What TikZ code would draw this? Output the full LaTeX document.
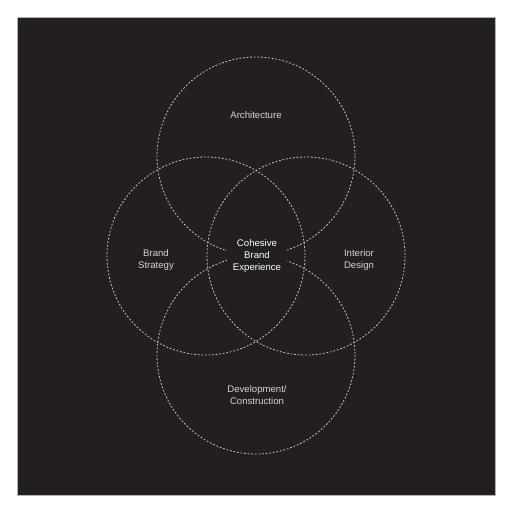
\documentclass[tikz,border=0pt]{standalone}
\usepackage{fontspec}
\setmainfont{Liberation Sans}
\definecolor{board}{HTML}{231F20}
\definecolor{ring}{HTML}{C8C6C6}
\definecolor{tagtext}{HTML}{D6D4D4}
\tikzset{
    ringline/.style={ring, line width=0.8pt, dash pattern=on 1.8pt off 1.8pt},
    tag/.style={text=tagtext, font=\fontsize{9.6}{12.2}\selectfont, align=center},
}
\begin{document}
\begin{tikzpicture}[x=1pt, y=-1pt]
        \useasboundingbox (0,0) rectangle (512,512);
        %background
        \fill [white] (0,0) rectangle (512,512);
        \filldraw [fill=board, draw=gray!60, line width=0.4pt] (17,17) rectangle (495,495);
        
        %top circle
        \draw [ringline] (256,156) circle (99);
        %left circle
        \draw [ringline] (206,256) circle (99);
        %right circle
        \draw [ringline] (306,256) circle (99);
        %bottom circle
        \draw [ringline] (256,355) circle (99);
        
        \node [tag] (arch) at (256,115) {Architecture};
        \node [tag] (strat) at (156,260) {Brand\\Strategy};
        \node [tag] (inter) at (359,260) {Interior\\Design};
        \node [tag] (dev) at (257,395) {Development/\\Construction};
        
        % centre text masks the rings
        \node [tag, text=white, fill=board, inner xsep=6pt, inner ysep=4pt] (core) at (257,256) {Cohesive\\Brand\\Experience};
    \end{tikzpicture}
\end{document}
